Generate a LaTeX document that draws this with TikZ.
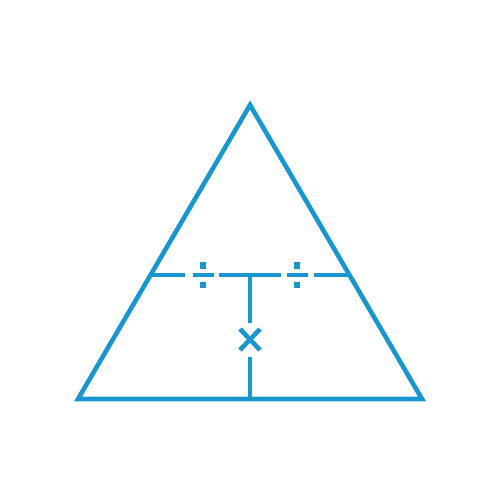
\documentclass[tikz,border=0pt]{standalone}
\definecolor{tblue}{RGB}{26,150,206}
\begin{document}
\begin{tikzpicture}[x=0.02cm,y=-0.02cm,
  ln/.style={draw=tblue,line width=4.6*0.02cm},
  dot/.style={fill=tblue}]
\useasboundingbox (0,0) rectangle (500,500);
\coordinate (A) at (250,105);
\coordinate (L) at (78,399);
\coordinate (R) at (422,399);
\coordinate (B) at (250,399);
\draw[ln,line join=miter] (A) -- (L) -- (R) -- cycle;
% horizontal dashed line with division signs
\draw[ln] (150,275) -- (185,275);
\draw[ln] (219,275) -- (281,275);
\draw[ln] (314,275) -- (350,275);
% division signs
\foreach \cx in {203,297}{
  \draw[ln] (\cx-10.5,275) -- (\cx+10.5,275);
  \fill[tblue] (\cx-3,262) rectangle (\cx+3,268.5);
  \fill[tblue] (\cx-3,281.5) rectangle (\cx+3,288);
}
% vertical
\draw[ln] (250,275) -- (250,323);
\draw[ln] (250,357) -- (B);
% multiplication sign
\draw[ln] (240,329) -- (260,350);
\draw[ln] (240,350) -- (260,329);
\end{tikzpicture}
\end{document}
